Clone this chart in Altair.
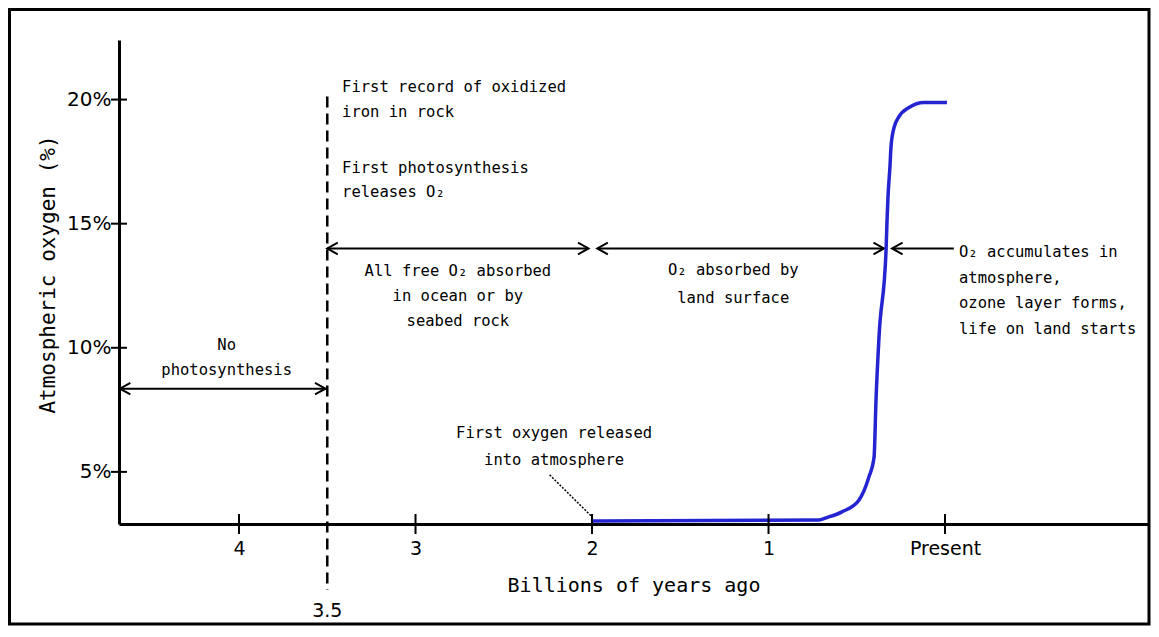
import altair as alt
import pandas as pd

# ---- data ----
# oxygen curve: age (billions of years ago) and atmospheric O2 (%)
curve_age = [2.0, 0.714, 0.674, 0.584, 0.487, 0.431, 0.402, 0.391, 0.374, 0.334,
             0.329, 0.323, 0.312, 0.306, 0.289, 0.261, 0.204, 0.119, -0.011]
curve_o2 = [3.02, 3.06, 3.15, 3.39, 3.87, 4.80, 5.60, 7.90, 10.44, 13.95,
            15.04, 16.09, 17.30, 18.10, 18.87, 19.31, 19.68, 19.88, 19.88]

x_tick_values = [4, 3, 2, 1, 0]
y_tick_values = [5, 10, 15, 20]

# period arrows (horizontal spans)
span_start = [4.68, 3.50, 1.97, 0.30]
span_end = [3.51, 2.02, 0.346, -0.05]
span_level = [8.35, 14.0, 14.0, 14.0]

# arrow heads
head_right_x = [3.51, 2.02, 0.346]
head_right_y = [8.35, 14.0, 14.0]
head_left_x = [4.675, 3.50, 1.97, 0.30]
head_left_y = [8.35, 14.0, 14.0, 14.0]

# dashed marker at 3.5 billion years
marker_age = [3.5]
marker_top = [20.12]
marker_bottom = [0.24]

# leader line for "first oxygen released"
leader_x = [2.24]
leader_x2 = [2.0]
leader_y = [4.88]
leader_y2 = [3.19]

# annotation texts
note_text = ["First record of oxidized", "iron in rock",
             "First photosynthesis", "releases O₂",
             "All free O₂ absorbed", "in ocean or by", "seabed rock",
             "O₂ absorbed by", "land surface",
             "O₂ accumulates in", "atmosphere,", "ozone layer forms,", "life on land starts",
             "No", "photosynthesis",
             "First oxygen released", "into atmosphere"]
note_x = [3.416, 3.416, 3.416, 3.416,
          2.76, 2.76, 2.76,
          1.20, 1.20,
          -0.079, -0.079, -0.079, -0.079,
          4.07, 4.07,
          2.215, 2.215]
note_y = [20.52, 19.48, 17.26, 16.29,
          13.10, 12.10, 11.09,
          13.15, 12.02,
          13.87, 12.82, 11.81, 10.77,
          10.12, 9.11,
          6.57, 5.48]
note_align = ["left"] * 4 + ["center"] * 5 + ["left"] * 4 + ["center"] * 4

MONO = "DejaVu Sans Mono"
SANS = "DejaVu Sans"

xs = alt.Scale(domain=[-1.15, 4.68], reverse=True, nice=False, zero=False)
ys = alt.Scale(domain=[2.9, 22.4], nice=False, zero=False)

xa = alt.Axis(
    values=x_tick_values,
    labelExpr="datum.value == 0 ? 'Present' : datum.label",
    ticks=False, grid=False,
    domainColor="black", domainWidth=3,
    labelFont=SANS, labelFontSize=19, labelColor="black", labelPadding=15,
    title="Billions of years ago", titleFont=MONO, titleFontSize=20,
    titleFontWeight="normal", titleColor="black",
    titleY=61, titleBaseline="middle")
ya = alt.Axis(
    values=y_tick_values,
    labelExpr="datum.value + '%'",
    ticks=False, grid=False,
    domainColor="black", domainWidth=3,
    labelFont=SANS, labelFontSize=20, labelColor="black", labelPadding=8,
    title="Atmospheric oxygen (%)", titleFont=MONO, titleFontSize=21,
    titleFontWeight="normal", titleColor="black",
    titleX=-71, titleY=234, titleAlign="center", titleBaseline="middle")


def X(f):
    return alt.X(f, scale=xs, axis=xa, title="Billions of years ago")


def Y(f):
    return alt.Y(f, scale=ys, axis=ya, title="Atmospheric oxygen (%)")


curve_df = pd.DataFrame({"age": curve_age, "o2": curve_o2})
span_df = pd.DataFrame({"a": span_start, "b": span_end, "y": span_level})
hr_df = pd.DataFrame({"x": head_right_x, "y": head_right_y})
hl_df = pd.DataFrame({"x": head_left_x, "y": head_left_y})
marker_df = pd.DataFrame({"x": marker_age, "y": marker_top, "y2": marker_bottom})
leader_df = pd.DataFrame({"x": leader_x, "x2": leader_x2, "y": leader_y, "y2": leader_y2})
notes_df = pd.DataFrame({"t": note_text, "x": note_x, "y": note_y, "al": note_align})
xt_df = pd.DataFrame({"x": x_tick_values, "y": [2.9] * len(x_tick_values)})
yt_df = pd.DataFrame({"x": [4.68] * len(y_tick_values), "y": y_tick_values})
marker_lbl_df = pd.DataFrame({"x": marker_age, "y": [-0.62], "t": ["3.5"]})
frame_df = pd.DataFrame({"k": [1]})

frame = alt.Chart(frame_df).mark_rect(filled=False, stroke="black", strokeWidth=3).encode(
    x=alt.value(-109.5), x2=alt.value(1030), y=alt.value(-30.5), y2=alt.value(584)
)

curve = alt.Chart(curve_df).mark_line(color="#2424d0", strokeWidth=3.5, interpolate="monotone").encode(
    x=X("age:Q"), y=Y("o2:Q"),
)

spans = alt.Chart(span_df).mark_rule(color="black", strokeWidth=2).encode(
    x=X("a:Q"), x2="b:Q", y=Y("y:Q"),
)

heads_r = alt.Chart(hr_df).mark_point(
    shape="M-1,-0.55L0,0L-1,0.55", size=440, filled=False, color="black", strokeWidth=2, opacity=1
).encode(x=X("x:Q"), y=Y("y:Q"))

heads_l = alt.Chart(hl_df).mark_point(
    shape="M1,-0.55L0,0L1,0.55", size=440, filled=False, color="black", strokeWidth=2, opacity=1
).encode(x=X("x:Q"), y=Y("y:Q"))

marker = alt.Chart(marker_df).mark_rule(color="black", strokeWidth=2.5, strokeDash=[11, 6]).encode(
    x=X("x:Q"), y=Y("y:Q"), y2="y2:Q",
)

leader = alt.Chart(leader_df).mark_rule(color="black", strokeWidth=1.5, strokeDash=[2, 1.5]).encode(
    x=X("x:Q"), x2="x2:Q", y=Y("y:Q"), y2="y2:Q",
)

xticks = alt.Chart(xt_df).mark_point(
    shape="M0,-1L0,1", size=400, filled=False, color="black", strokeWidth=2, opacity=1
).encode(x=X("x:Q"), y=Y("y:Q"))

yticks = alt.Chart(yt_df).mark_point(
    shape="M-1,0L1,0", size=256, filled=False, color="black", strokeWidth=2, opacity=1
).encode(x=X("x:Q"), y=Y("y:Q"))

notes_left = alt.Chart(notes_df).transform_filter("datum.al == 'left'").mark_text(
    align="left", baseline="middle", font=MONO, fontSize=15.5, color="black"
).encode(x=X("x:Q"), y=Y("y:Q"), text="t:N")

notes_center = alt.Chart(notes_df).transform_filter("datum.al == 'center'").mark_text(
    align="center", baseline="middle", font=MONO, fontSize=15.5, color="black"
).encode(x=X("x:Q"), y=Y("y:Q"), text="t:N")

marker_lbl = alt.Chart(marker_lbl_df).mark_text(
    align="center", baseline="middle", font=SANS, fontSize=19, color="black"
).encode(x=X("x:Q"), y=Y("y:Q"), text="t:N")

chart = alt.layer(
    frame, spans, heads_r, heads_l, marker, leader, curve, xticks, yticks,
    notes_left, notes_center, marker_lbl
).properties(
    width=1029, height=484,
    autosize=alt.AutoSizeParams(type="none"),
    padding={"left": 111, "top": 32, "right": 3, "bottom": 102},
    background="white",
).configure_view(strokeWidth=0)

chart.save("out.html", embed_options={"renderer": "svg", "actions": False})
